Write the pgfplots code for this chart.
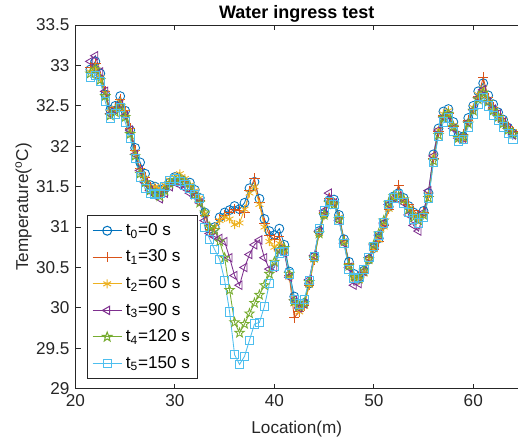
\documentclass[border=0pt]{standalone}
\usepackage{fontspec}
\setmainfont{Liberation Sans}
\usepackage{pgfplots}
\pgfplotsset{compat=1.18}
\usepackage{pgfplotstable}
\usetikzlibrary{calc}

% MATLAB default line colours
\definecolor{mblue}{rgb}{0,0.447,0.741}
\definecolor{morange}{rgb}{0.85,0.325,0.098}
\definecolor{myellow}{rgb}{0.929,0.694,0.125}
\definecolor{mpurple}{rgb}{0.494,0.184,0.556}
\definecolor{mgreen}{rgb}{0.466,0.674,0.188}
\definecolor{mcyan}{rgb}{0.301,0.745,0.933}
\definecolor{maxis}{rgb}{0.15,0.15,0.15}

% five-pointed star outline, like MATLAB's 'p'
\pgfdeclareplotmark{pentagram}{%
  \pgfpathmoveto{\pgfpointpolar{90}{1.1\pgfplotmarksize}}%
  \pgfpathlineto{\pgfpointpolar{126}{0.45\pgfplotmarksize}}%
  \pgfpathlineto{\pgfpointpolar{162}{1.1\pgfplotmarksize}}%
  \pgfpathlineto{\pgfpointpolar{198}{0.45\pgfplotmarksize}}%
  \pgfpathlineto{\pgfpointpolar{234}{1.1\pgfplotmarksize}}%
  \pgfpathlineto{\pgfpointpolar{270}{0.45\pgfplotmarksize}}%
  \pgfpathlineto{\pgfpointpolar{306}{1.1\pgfplotmarksize}}%
  \pgfpathlineto{\pgfpointpolar{342}{0.45\pgfplotmarksize}}%
  \pgfpathlineto{\pgfpointpolar{18}{1.1\pgfplotmarksize}}%
  \pgfpathlineto{\pgfpointpolar{54}{0.45\pgfplotmarksize}}%
  \pgfpathclose
  \pgfusepathqstroke
}

\pgfplotstableread{
x y
21.5 32.95
22.0 33.05
22.5 32.90
23.0 32.64
23.5 32.45
24.0 32.50
24.5 32.62
25.0 32.44
25.5 32.20
26.0 31.98
26.5 31.80
27.0 31.66
27.5 31.52
28.0 31.50
28.5 31.46
29.0 31.48
29.5 31.55
30.0 31.62
30.5 31.60
31.0 31.55
31.5 31.55
32.0 31.46
32.5 31.36
33.0 31.18
33.5 30.98
34.0 31.00
34.5 31.12
35.0 31.18
35.5 31.21
36.0 31.26
36.5 31.22
37.0 31.30
37.5 31.48
38.0 31.56
38.5 31.35
39.0 31.10
39.5 30.95
40.0 30.90
40.5 30.98
41.0 30.78
41.5 30.45
42.0 30.14
42.5 30.00
43.0 30.06
43.5 30.30
44.0 30.63
44.5 30.95
45.0 31.16
45.5 31.33
46.0 31.34
46.5 31.15
47.0 30.85
47.5 30.57
48.0 30.42
48.5 30.36
49.0 30.46
49.5 30.60
50.0 30.74
50.5 30.86
51.0 31.03
51.5 31.25
52.0 31.38
52.5 31.42
53.0 31.36
53.5 31.26
54.0 31.18
54.5 31.12
55.0 31.20
55.5 31.42
56.0 31.90
56.5 32.22
57.0 32.43
57.5 32.46
58.0 32.30
58.5 32.13
59.0 32.12
59.5 32.35
60.0 32.50
60.5 32.68
61.0 32.78
61.5 32.63
62.0 32.52
62.5 32.42
63.0 32.33
63.5 32.23
64.0 32.16
}\tzero

\pgfplotstableread{
x y
21.5 32.98
22.0 33.02
22.5 32.85
23.0 32.68
23.5 32.40
24.0 32.48
24.5 32.58
25.0 32.44
25.5 32.22
26.0 31.95
26.5 31.72
27.0 31.62
27.5 31.50
28.0 31.47
28.5 31.44
29.0 31.50
29.5 31.56
30.0 31.58
30.5 31.62
31.0 31.57
31.5 31.50
32.0 31.42
32.5 31.33
33.0 31.15
33.5 30.97
34.0 30.98
34.5 31.10
35.0 31.15
35.5 31.18
36.0 31.22
36.5 31.20
37.0 31.18
37.5 31.45
38.0 31.60
38.5 31.30
39.0 31.05
39.5 30.90
40.0 30.85
40.5 30.88
41.0 30.72
41.5 30.40
42.0 29.88
42.5 29.95
43.0 30.03
43.5 30.28
44.0 30.60
44.5 30.93
45.0 31.18
45.5 31.36
46.0 31.30
46.5 31.12
47.0 30.84
47.5 30.55
48.0 30.40
48.5 30.38
49.0 30.44
49.5 30.62
50.0 30.72
50.5 30.82
51.0 31.02
51.5 31.22
52.0 31.36
52.5 31.52
53.0 31.32
53.5 31.28
54.0 31.20
54.5 31.15
55.0 31.18
55.5 31.38
56.0 31.85
56.5 32.18
57.0 32.38
57.5 32.40
58.0 32.25
58.5 32.12
59.0 32.15
59.5 32.32
60.0 32.46
60.5 32.62
61.0 32.85
61.5 32.60
62.0 32.48
62.5 32.38
63.0 32.30
63.5 32.24
64.0 32.18
}\tone

\pgfplotstableread{
x y
21.5 32.92
22.0 32.98
22.5 32.85
23.0 32.66
23.5 32.42
24.0 32.47
24.5 32.55
25.0 32.42
25.5 32.20
26.0 31.92
26.5 31.70
27.0 31.60
27.5 31.48
28.0 31.50
28.5 31.48
29.0 31.52
29.5 31.58
30.0 31.62
30.5 31.66
31.0 31.60
31.5 31.52
32.0 31.45
32.5 31.36
33.0 31.16
33.5 30.98
34.0 31.00
34.5 31.08
35.0 31.12
35.5 31.10
36.0 31.03
36.5 31.05
37.0 31.22
37.5 31.42
38.0 31.50
38.5 31.28
39.0 31.00
39.5 30.82
40.0 30.75
40.5 30.80
41.0 30.70
41.5 30.38
42.0 30.05
42.5 29.95
43.0 30.02
43.5 30.28
44.0 30.60
44.5 30.92
45.0 31.14
45.5 31.30
46.0 31.30
46.5 31.12
47.0 30.82
47.5 30.52
48.0 30.38
48.5 30.34
49.0 30.42
49.5 30.58
50.0 30.72
50.5 30.84
51.0 31.00
51.5 31.22
52.0 31.35
52.5 31.40
53.0 31.34
53.5 31.24
54.0 31.15
54.5 31.10
55.0 31.16
55.5 31.40
56.0 31.88
56.5 32.20
57.0 32.40
57.5 32.44
58.0 32.26
58.5 32.10
59.0 32.08
59.5 32.30
60.0 32.48
60.5 32.64
61.0 32.72
61.5 32.58
62.0 32.46
62.5 32.38
63.0 32.32
63.5 32.22
64.0 32.18
}\ttwo

\pgfplotstableread{
x y
21.5 33.05
22.0 33.12
22.5 32.92
23.0 32.68
23.5 32.40
24.0 32.45
24.5 32.52
25.0 32.38
25.5 32.20
26.0 31.90
26.5 31.70
27.0 31.55
27.5 31.45
28.0 31.40
28.5 31.35
29.0 31.42
29.5 31.50
30.0 31.55
30.5 31.52
31.0 31.48
31.5 31.42
32.0 31.38
32.5 31.30
33.0 31.08
33.5 30.92
34.0 30.88
34.5 30.86
35.0 30.82
35.5 30.62
36.0 30.40
36.5 30.28
37.0 30.50
37.5 30.66
38.0 30.78
38.5 30.84
39.0 30.62
39.5 30.48
40.0 30.50
40.5 30.72
41.0 30.68
41.5 30.38
42.0 30.10
42.5 30.00
43.0 30.05
43.5 30.35
44.0 30.65
44.5 30.95
45.0 31.20
45.5 31.42
46.0 31.30
46.5 31.08
47.0 30.80
47.5 30.50
48.0 30.28
48.5 30.30
49.0 30.45
49.5 30.62
50.0 30.78
50.5 30.90
51.0 31.05
51.5 31.28
52.0 31.36
52.5 31.38
53.0 31.30
53.5 31.15
54.0 31.02
54.5 30.95
55.0 31.18
55.5 31.45
56.0 31.88
56.5 32.20
57.0 32.36
57.5 32.38
58.0 32.22
58.5 32.10
59.0 32.10
59.5 32.30
60.0 32.45
60.5 32.60
61.0 32.70
61.5 32.55
62.0 32.46
62.5 32.40
63.0 32.30
63.5 32.22
64.0 32.14
}\tthree

\pgfplotstableread{
x y
21.5 32.90
22.0 32.95
22.5 32.82
23.0 32.62
23.5 32.38
24.0 32.42
24.5 32.50
25.0 32.36
25.5 32.15
26.0 31.88
26.5 31.66
27.0 31.55
27.5 31.45
28.0 31.42
28.5 31.38
29.0 31.45
29.5 31.54
30.0 31.58
30.5 31.60
31.0 31.56
31.5 31.50
32.0 31.40
32.5 31.30
33.0 31.18
33.5 31.00
34.0 30.96
34.5 30.82
35.0 30.62
35.5 30.22
36.0 29.82
36.5 29.69
37.0 29.80
37.5 29.93
38.0 30.06
38.5 30.16
39.0 30.28
39.5 30.42
40.0 30.57
40.5 30.72
41.0 30.74
41.5 30.42
42.0 30.08
42.5 30.02
43.0 30.06
43.5 30.32
44.0 30.62
44.5 30.92
45.0 31.15
45.5 31.30
46.0 31.28
46.5 31.10
47.0 30.82
47.5 30.52
48.0 30.38
48.5 30.36
49.0 30.46
49.5 30.60
50.0 30.78
50.5 30.92
51.0 31.08
51.5 31.30
52.0 31.38
52.5 31.38
53.0 31.34
53.5 31.22
54.0 31.12
54.5 31.08
55.0 31.15
55.5 31.36
56.0 31.82
56.5 32.14
57.0 32.35
57.5 32.40
58.0 32.24
58.5 32.10
59.0 32.12
59.5 32.28
60.0 32.44
60.5 32.58
61.0 32.66
61.5 32.55
62.0 32.44
62.5 32.36
63.0 32.28
63.5 32.20
64.0 32.15
}\tfour

\pgfplotstableread{
x y
21.5 32.85
22.0 32.88
22.5 32.80
23.0 32.55
23.5 32.35
24.0 32.40
24.5 32.48
25.0 32.30
25.5 32.10
26.0 31.85
26.5 31.62
27.0 31.48
27.5 31.42
28.0 31.40
28.5 31.42
29.0 31.50
29.5 31.58
30.0 31.60
30.5 31.56
31.0 31.52
31.5 31.48
32.0 31.40
32.5 31.35
33.0 31.00
33.5 30.85
34.0 30.72
34.5 30.60
35.0 30.34
35.5 29.95
36.0 29.42
36.5 29.30
37.0 29.40
37.5 29.60
38.0 29.80
38.5 29.82
39.0 30.02
39.5 30.30
40.0 30.52
40.5 30.68
41.0 30.70
41.5 30.42
42.0 30.10
42.5 30.05
43.0 30.10
43.5 30.34
44.0 30.64
44.5 30.98
45.0 31.20
45.5 31.32
46.0 31.28
46.5 31.08
47.0 30.80
47.5 30.48
48.0 30.36
48.5 30.38
49.0 30.48
49.5 30.62
50.0 30.76
50.5 30.90
51.0 31.05
51.5 31.28
52.0 31.36
52.5 31.40
53.0 31.30
53.5 31.18
54.0 31.10
54.5 31.05
55.0 31.12
55.5 31.35
56.0 31.80
56.5 32.12
57.0 32.30
57.5 32.35
58.0 32.18
58.5 32.06
59.0 32.08
59.5 32.24
60.0 32.40
60.5 32.52
61.0 32.60
61.5 32.50
62.0 32.38
62.5 32.32
63.0 32.24
63.5 32.16
64.0 32.08
}\tfive

\begin{document}
\begin{tikzpicture}
\begin{axis}[
  scale only axis,
  width=258pt, height=212pt,
  xmin=20, xmax=64.5,
  ymin=29, ymax=33.5,
  xtick={20,30,40,50,60},
  ytick={29,29.5,...,33.5},
  axis x line*=box,
  axis y line*=left,
  tick align=inside,
  major tick length=3pt,
  axis line style={maxis, line width=0.5pt},
  every tick/.style={maxis, line width=0.5pt},
  tick label style={text=maxis},
  /pgf/number format/assume math mode=true,
  xlabel={Location(m)},
  ylabel={Temperature(\textsuperscript{o}C)},
  label style={text=maxis},
  xlabel style={at={(axis description cs:0.5,-0.124)}, anchor=base},
  ylabel style={at={(axis description cs:-0.107,0.5)}, anchor=base},
  title={\textbf{Water ingress test}},
  every axis title shift=0pt,
  title style={at={(axis description cs:0.5,1.019)}, anchor=base, yshift=0pt,
    font=\fontsize{10.5}{12}\selectfont},
  every axis plot/.append style={line width=0.5pt},
  mark size=2.6pt,
  legend image post style={line width=0.6pt},
  legend style={at={(0.027,0.027)}, anchor=south west, draw=maxis,
    fill=white, row sep=3pt, inner sep=2.5pt, cells={anchor=west}},
]
\addplot[color=mblue, mark=o] table {\tzero};
\addplot[color=morange, mark=+, mark size=3pt] table {\tone};
\addplot[color=myellow, mark=asterisk, mark size=2.6pt] table {\ttwo};
\addplot[color=mpurple, mark=triangle, mark options={rotate=90}, mark size=2.8pt] table {\tthree};
\addplot[color=mgreen, mark=pentagram, mark size=2.6pt] table {\tfour};
\addplot[color=mcyan, mark=square, mark size=2.4pt] table {\tfive};
\legend{t\textsubscript{0}=0 s, t\textsubscript{1}=30 s, t\textsubscript{2}=60 s,
  t\textsubscript{3}=90 s, t\textsubscript{4}=120 s, t\textsubscript{5}=150 s}
\end{axis}
\pgfresetboundingbox
\path[use as bounding box] ($(current axis.south west)+(-44pt,-32pt)$)
  rectangle ($(current axis.north east)+(0pt,14.6pt)$);
\end{tikzpicture}
\end{document}
